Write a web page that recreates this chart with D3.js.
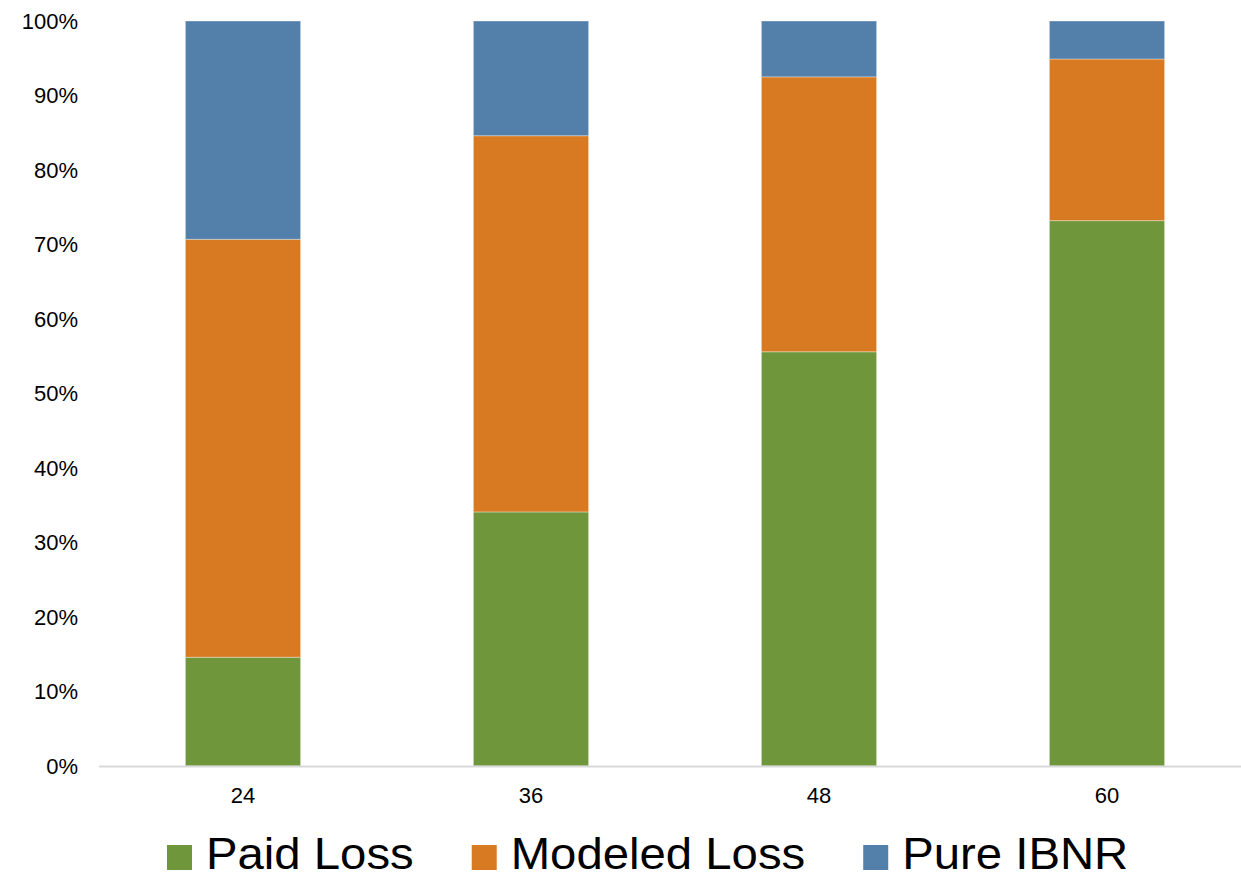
<!DOCTYPE html>
<html>
<head>
<meta charset="utf-8">
<script src="https://cdn.jsdelivr.net/npm/d3@7"></script>
<style>
  body { margin: 0; background: #fff; }
  svg { display: block; font-family: "Liberation Sans", Arial, sans-serif; }
</style>
</head>
<body>
<div id="chart"></div>
<script>
// data
const periods = ["24", "36", "48", "60"];
const paidLoss = [0.146, 0.341, 0.556, 0.732];
const modeledLoss = [0.561, 0.505, 0.369, 0.217];
const pureIBNR = [0.293, 0.154, 0.075, 0.051];
const seriesNames = ["Paid Loss", "Modeled Loss", "Pure IBNR"];
const yTicks = [0, 0.1, 0.2, 0.3, 0.4, 0.5, 0.6, 0.7, 0.8, 0.9, 1.0];

const colors = ["#6f963b", "#d87a21", "#5380ab"];

const W = 1241, H = 879;
const x0 = 99, x1 = 1251;   // band range (last band runs past the edge)
const yTop = 21, yBot = 766;

const rows = periods.map((p, i) => ({
  period: p, "Paid Loss": paidLoss[i], "Modeled Loss": modeledLoss[i], "Pure IBNR": pureIBNR[i]
}));
const stacked = d3.stack().keys(seriesNames)(rows);

const svg = d3.select("#chart").append("svg").attr("width", W).attr("height", H);

const x = d3.scaleBand().domain(periods).range([x0, x1]).paddingInner(0.6).paddingOuter(0.3);
const y = d3.scaleLinear().domain([0, 1]).range([yBot, yTop]);

// y labels
svg.append("g").selectAll("text").data(yTicks).join("text")
  .attr("x", 78).attr("y", d => y(d))
  .attr("dy", "0.36em")
  .attr("text-anchor", "end")
  .attr("font-size", 22)
  .attr("fill", "#000")
  .text(d => d3.format(".0%")(d));

// bars
svg.append("g").selectAll("g").data(stacked).join("g")
  .attr("fill", (d, i) => colors[i])
  .selectAll("rect").data(d => d).join("rect")
  .attr("x", d => x(d.data.period))
  .attr("width", x.bandwidth())
  .attr("y", d => y(d[1]))
  .attr("height", d => y(d[0]) - y(d[1]))
  .attr("stroke", "#ffffff")
  .attr("stroke-opacity", 0.35)
  .attr("stroke-width", 1);

// x axis line
svg.append("line")
  .attr("x1", x0).attr("x2", W)
  .attr("y1", yBot + 0.5).attr("y2", yBot + 0.5)
  .attr("stroke", "#d9d9d9").attr("stroke-width", 2);

// x labels
svg.append("g").selectAll("text").data(periods).join("text")
  .attr("x", d => x(d) + x.bandwidth() / 2)
  .attr("y", 803)
  .attr("text-anchor", "middle")
  .attr("font-size", 22)
  .attr("fill", "#000")
  .text(d => d);

// legend (text a bit wider than the font gives, like the original)
const leg = svg.append("g");
let lx = 167;
seriesNames.forEach((name, i) => {
  leg.append("rect")
    .attr("x", lx).attr("y", 845)
    .attr("width", 25).attr("height", 25)
    .attr("fill", colors[i]);
  const t = leg.append("text")
    .attr("x", lx + 39).attr("y", 869)
    .attr("font-size", 44)
    .attr("fill", "#000")
    .text(name);
  const w = t.node().getComputedTextLength() * 1.075;
  t.attr("textLength", w).attr("lengthAdjust", "spacingAndGlyphs");
  lx += 39 + w + 58;
});
</script>
</body>
</html>
